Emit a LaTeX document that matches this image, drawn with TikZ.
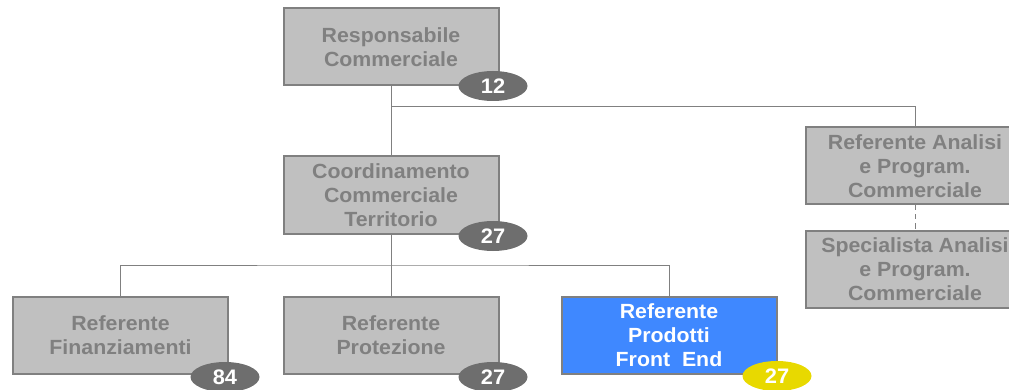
\documentclass[tikz,border=0pt]{standalone}
\usepackage{fontspec}
\setmainfont{Liberation Sans}[FakeStretch=1.04]
\usepackage{xcolor}
\usetikzlibrary{positioning,shapes,calc}

\definecolor{boxgray}{HTML}{C0C0C0}
\definecolor{edgegray}{HTML}{808080}
\definecolor{badgegray}{HTML}{6E6E6E}
\definecolor{frontblue}{HTML}{3F88FF}
\definecolor{badgeyellow}{HTML}{E8D900}

\begin{document}
\begin{tikzpicture}[x=1pt, y=-1pt,
    unit/.style={draw=edgegray, line width=2pt, fill=boxgray, rectangle, align=center,
        text=edgegray, font=\fontsize{20.5}{24}\selectfont\bfseries,
        minimum width=215pt, minimum height=77pt, inner sep=0pt},
    badge/.style={ellipse, fill=badgegray, text=white, minimum width=69pt, minimum height=30pt,
        inner sep=0pt, font=\fontsize{21}{22}\selectfont\bfseries},
    link/.style={draw=edgegray, line width=1pt}]
        \clip (0,0) rectangle (1009,390);
        % Nodes
        \node[unit] (resp) at (391,47) {Responsabile\\Commerciale};
        \node[unit] (coord) at (391,195) {Coordinamento\\Commerciale\\Territorio};
        \node[unit, minimum width=218pt] (analisi) at (915,166) {Referente Analisi\\e Program.\\Commerciale};
        \node[unit, minimum width=218pt] (special) at (915,269) {Specialista Analisi\\e Program.\\Commerciale};
        \node[unit] (finanz) at (120.5,335) {Referente\\Finanziamenti};
        \node[unit] (protez) at (391,335) {Referente\\Protezione};
        \node[unit, fill=frontblue, text=white] (front) at (669,335.5) {Referente\\Prodotti\\Front\ \ End};

        % Badges
        \node[badge] (n12) at (493,86) {12};
        \node[badge] (n27coord) at (493,236) {27};
        \node[badge] (n84) at (225,377) {84};
        \node[badge] (n27prot) at (493,377) {27};
        \node[badge, fill=badgeyellow] (n27front) at (777,376) {27};

        % Lines
        \coordinate (split) at (391,107);
        \coordinate (bus) at (391,265);
        \draw[link] (resp.south) -- (coord.north);
        \draw[link] (split) -| (analisi.north);
        \draw[link, dash pattern=on 5pt off 4pt] (analisi.south) -- (special.north);
        \draw[link] (coord.south) -- (protez.north);
        \draw[link] (finanz.north) |- (bus) -| (front.north);
    \end{tikzpicture}
\end{document}
